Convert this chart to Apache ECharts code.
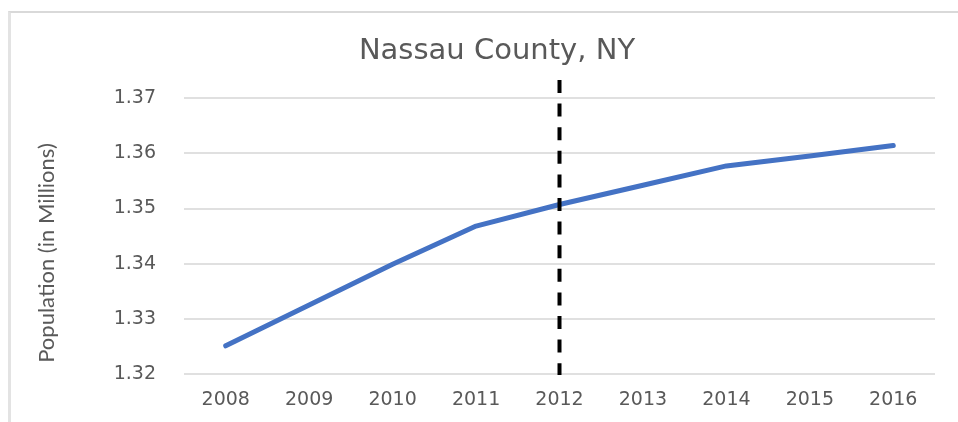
<!DOCTYPE html>
<html>
<head>
<meta charset="utf-8">
<script src="https://cdn.jsdelivr.net/npm/echarts@6/dist/echarts.min.js"></script>
<style>
  html, body { margin: 0; padding: 0; background: #fff; }
  #chart { width: 958px; height: 422px; }
  #frame { position: absolute; left: 8px; top: 11px; width: 960px; height: 420px;
           border-top: 2px solid #d9d9d9; border-left: 3px solid #e3e3e3; pointer-events: none; }
</style>
</head>
<body>
<div id="chart"></div>
<div id="frame"></div>
<script>
// ---- data ----
const years = ['2008', '2009', '2010', '2011', '2012', '2013', '2014', '2015', '2016'];
const population = [1.3251, 1.3325, 1.3399, 1.3468, 1.3507, 1.3542, 1.3577, 1.3595, 1.3614];
const yMin = 1.32;
const yMax = 1.37;
const yStep = 0.01;
const eventYear = '2012';
const titleText = 'Nassau County, NY';
const yAxisTitle = 'Population (in Millions)';

const chart = echarts.init(document.getElementById('chart'), null, { renderer: 'canvas' });
const textColor = '#595959';
const tickFont = 'DejaVu Sans';

chart.setOption({
  animation: false,
  backgroundColor: '#ffffff',
  title: {
    text: titleText,
    left: 492,
    top: 32,
    textAlign: 'center',
    textStyle: { fontFamily: tickFont, fontSize: 29, fontWeight: 'normal', color: textColor }
  },
  grid: [
    { left: 184, right: 23, top: 98, bottom: 48, containLabel: false },
    { left: 184, right: 23, top: 80, bottom: 47, containLabel: false }
  ],
  xAxis: [
    {
      gridIndex: 0,
      type: 'category',
      data: years,
      boundaryGap: true,
      axisLine: { show: false },
      axisTick: { show: false },
      axisLabel: { color: textColor, fontFamily: tickFont, fontSize: 19, margin: 17 }
    },
    {
      gridIndex: 1,
      type: 'category',
      data: years,
      boundaryGap: true,
      show: false
    }
  ],
  yAxis: [
    {
      gridIndex: 0,
      type: 'value',
      min: yMin,
      max: yMax,
      interval: yStep,
      name: yAxisTitle,
      nameLocation: 'middle',
      nameRotate: 90,
      nameGap: 126,
      nameTextStyle: { color: textColor, fontFamily: 'Lato', fontSize: 22, padding: [0, 34, 0, 0] },
      axisLine: { show: false },
      axisTick: { show: false },
      splitLine: { show: true, lineStyle: { color: '#d6d6d6', width: 1.5 } },
      axisLabel: {
        color: textColor, fontFamily: tickFont, fontSize: 19, margin: 28,
        formatter: v => v.toFixed(2)
      }
    },
    {
      gridIndex: 1,
      type: 'value',
      min: 0,
      max: 1,
      show: false
    }
  ],
  series: [
    {
      type: 'line',
      xAxisIndex: 0,
      yAxisIndex: 0,
      data: population,
      symbol: 'none',
      lineStyle: { color: '#4472C4', width: 5, cap: 'round', join: 'round' },
      z: 3
    },
    {
      type: 'line',
      xAxisIndex: 1,
      yAxisIndex: 1,
      data: [[eventYear, 1], [eventYear, 0]],
      symbol: 'none',
      lineStyle: { color: '#000000', width: 4, type: [13, 10.6], cap: 'butt' },
      z: 4
    }
  ]
});
</script>
</body>
</html>
